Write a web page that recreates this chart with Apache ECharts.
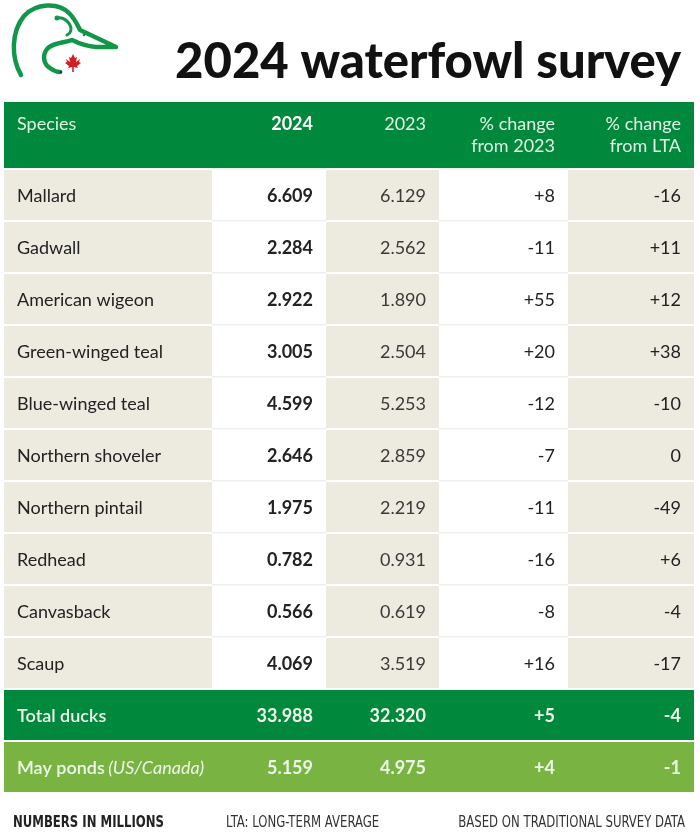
<!DOCTYPE html>
<html>
<head>
<meta charset="utf-8">
<script src="https://cdn.jsdelivr.net/npm/echarts@6/dist/echarts.min.js"></script>
<style>html,body{margin:0;padding:0;background:#fff}#c{width:700px;height:840px}</style>
</head>
<body>
<div id="c"></div>
<script>
// ---- data ----
const species = ['Mallard','Gadwall','American wigeon','Green-winged teal','Blue-winged teal','Northern shoveler','Northern pintail','Redhead','Canvasback','Scaup'];
const pop2024 = [6.609, 2.284, 2.922, 3.005, 4.599, 2.646, 1.975, 0.782, 0.566, 4.069];
const pop2023 = [6.129, 2.562, 1.890, 2.504, 5.253, 2.859, 2.219, 0.931, 0.619, 3.519];
const chg2023 = [8, -11, 55, 20, -12, -7, -11, -16, -8, 16];
const chgLTA = [-16, 11, 12, 38, -10, 0, -49, 6, -4, -17];
const totalLabel = 'Total ducks';
const totalVals = [33.988, 32.320, 5, -4];
const pondsLabel = 'May ponds';
const pondsNote = '(US/Canada)';
const pondsVals = [5.159, 4.975, 4, -1];
const headers = ['Species', '2024', '2023', '% change\nfrom 2023', '% change\nfrom LTA'];
const title = '2024 waterfowl survey';
const footnotes = ['NUMBERS IN MILLIONS', 'LTA: LONG-TERM AVERAGE', 'BASED ON TRADITIONAL SURVEY DATA'];

// ---- layout ----
const edges = [4, 212, 326, 439, 568, 694];
const bodyTop = 168, bodyBottom = 792;
const headTop = 102;
const colBg = ['#edeae0', '#ffffff', '#edeae0', '#ffffff', '#edeae0'];
const DARK = '#00883d', LIGHT = '#79b443';
const FONT = 'Lato, "Noto Sans", sans-serif';
const FS = 18;

const rowNames = species.concat([totalLabel, pondsLabel]);
const fmtNum = v => v.toFixed(3);
const fmtPct = v => v > 0 ? '+' + v : (v === 0 ? '0' : String(v));

function cellText(col, r) {
  if (r < 10) {
    if (col === 0) return species[r];
    if (col === 1) return fmtNum(pop2024[r]);
    if (col === 2) return fmtNum(pop2023[r]);
    if (col === 3) return fmtPct(chg2023[r]);
    return fmtPct(chgLTA[r]);
  }
  const vals = r === 10 ? totalVals : pondsVals;
  if (col === 0) return r === 10 ? totalLabel : pondsLabel;
  if (col <= 2) return fmtNum(vals[col - 1]);
  return fmtPct(vals[col - 1]);
}

function makeRender(col) {
  return function (params, api) {
    const r = api.value(1);
    const p = api.coord([0, r]);
    const s = api.size([1, 1]);
    const x0 = p[0] - s[0] / 2, y0 = p[1] - s[1] / 2;
    const w = s[0], h = s[1];
    let fill = colBg[col];
    if (r === 10) fill = DARK;
    if (r === 11) fill = LIGHT;
    const children = [];
    children.push({type: 'rect', shape: {x: x0, y: y0 + 2, width: w, height: h - 2}, style: {fill: fill}});
    if (fill === '#ffffff') {
      children.push({type: 'rect', shape: {x: x0, y: y0, width: w, height: 1.5}, style: {fill: '#efefef'}});
    }
    const cy = y0 + 2 + (h - 2) / 2 + 1;
    const total = r >= 10;
    const color = total ? '#eef6ea' : (col === 2 ? '#3a3a3a' : '#222222');
    const weight = (col === 1 || (total && col > 0)) ? 'bold' : (total ? '600' : 'normal');
    if (col === 0) {
      if (r === 11) {
        children.push({type: 'text', style: {
          text: '{a|' + pondsLabel + '} {b|' + pondsNote + '}',
          x: x0 + 13, y: cy, align: 'left', verticalAlign: 'middle',
          rich: {
            a: {fontFamily: FONT, fontSize: FS, fontWeight: '600', fill: color, color: color},
            b: {fontFamily: FONT, fontSize: FS, fontStyle: 'italic', fill: color, color: color}
          }
        }});
      } else {
        children.push({type: 'text', style: {
          text: cellText(col, r), x: x0 + 13, y: cy, align: 'left', verticalAlign: 'middle',
          fill: color, font: weight + ' ' + FS + 'px ' + FONT
        }});
      }
    } else {
      children.push({type: 'text', style: {
        text: cellText(col, r), x: x0 + w - 13, y: cy, align: 'right', verticalAlign: 'middle',
        fill: color, font: weight + ' ' + FS + 'px ' + FONT
      }});
    }
    return {type: 'group', children: children};
  };
}

const grids = [], xAxes = [], yAxes = [], series = [];
for (let c = 0; c < 5; c++) {
  grids.push({left: edges[c], width: edges[c + 1] - edges[c], top: bodyTop, height: bodyBottom - bodyTop});
  xAxes.push({type: 'category', gridIndex: c, data: [headers[c]], show: false});
  yAxes.push({type: 'category', gridIndex: c, data: rowNames, inverse: true, show: false});
  series.push({
    type: 'custom', xAxisIndex: c, yAxisIndex: c, silent: true,
    renderItem: makeRender(c),
    data: rowNames.map((n, i) => [0, i])
  });
}

// header & decoration
const graphics = [];
graphics.push({type: 'rect', shape: {x: edges[0], y: headTop, width: edges[5] - edges[0], height: bodyTop - headTop}, style: {fill: DARK}, z: 1});
for (let c = 0; c < 5; c++) {
  const lines = headers[c].split('\n');
  lines.forEach((ln, i) => {
    graphics.push({type: 'text', z: 2, style: {
      text: ln,
      x: c === 0 ? edges[0] + 13 : edges[c + 1] - 13,
      y: 124 + i * 22,
      align: c === 0 ? 'left' : 'right', verticalAlign: 'middle',
      fill: c === 1 ? '#ffffff' : '#e2f1e3',
      font: (c === 1 ? 'bold ' : 'normal ') + FS + 'px ' + FONT
    }});
  });
}
graphics.push({type: 'text', z: 2, style: {
  text: title, x: 681, y: 62, align: 'right', verticalAlign: 'middle',
  fill: '#111111', font: '900 49px ' + FONT
}});
// logo (inline SVG image)
const logoSvg = '<svg xmlns="http://www.w3.org/2000/svg" width="130" height="100" viewBox="0 0 130 100">' +
  '<path d="M21,75 C11,58 11,32 24,16 C36,3 58,2 69,13 C75,19 77,24 80,30 L116,47 L96,47 C86,46 78,43 72,40 C64,43 55,42 48,48 C42,54 43,64 50,68 C54,71 57,72 60,72" fill="none" stroke="#12964a" stroke-width="4.5" stroke-linecap="round" stroke-linejoin="round"/>' +
  '<path d="M58,18 C63,17 68,21 70,25 C72,29 71,33 67,35" fill="none" stroke="#12964a" stroke-width="3" stroke-linecap="round"/>' +
  '<circle cx="57" cy="18" r="2.5" fill="#12964a"/><circle cx="84" cy="35" r="1.3" fill="#12964a"/><circle cx="61" cy="72" r="1.3" fill="#333"/>' +
  '<polygon fill="#d21f26" points="73,54 75,58 77,57 76,62 80,59 79,62 81,63 77,66 78,68 73.8,67 73.8,72 72.2,72 72.2,67 68,68 69,66 65,63 67,62 66,59 70,62 69,57 71,58"/>' +
  '</svg>';
graphics.push({type: 'image', z: 2, style: {image: 'data:image/svg+xml;charset=utf-8,' + encodeURIComponent(logoSvg), x: 0, y: 0, width: 130, height: 100}});
// footnotes (slightly stretched vertically to mimic a condensed face)
const FOOT = '"Liberation Sans Narrow", "DejaVu Sans Condensed", sans-serif';
const footX = [13, 226, 685], footAlign = ['left', 'left', 'right'];
footnotes.forEach((t, i) => {
  graphics.push({type: 'text', x: footX[i], y: 823, scaleY: 1.25, style: {
    text: t, x: 0, y: 0, align: footAlign[i], verticalAlign: 'middle',
    fill: i === 0 ? '#222' : '#333', font: (i === 0 ? 'bold ' : '') + '13px ' + FOOT
  }});
});

const chart = echarts.init(document.getElementById('c'), null, {renderer: 'canvas'});
chart.setOption({
  animation: false,
  backgroundColor: '#ffffff',
  grid: grids, xAxis: xAxes, yAxis: yAxes, series: series,
  graphic: graphics
});
</script>
</body>
</html>
